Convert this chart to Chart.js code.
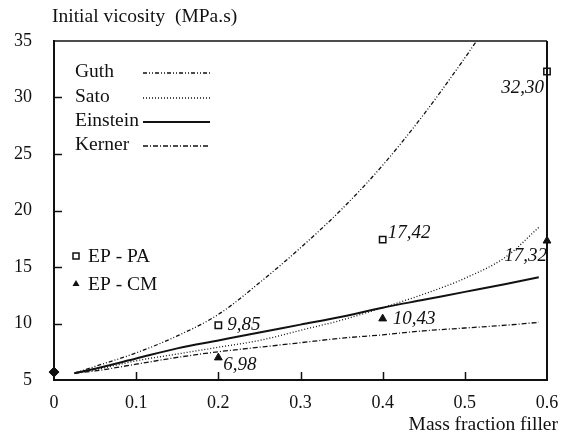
<!DOCTYPE html>
<html>
<head>
<meta charset="utf-8">
<script src="https://cdn.jsdelivr.net/npm/chart.js@4/dist/chart.umd.min.js"></script>
<style>
  html, body { margin: 0; padding: 0; background: #fff; }
  canvas { display: block; }
</style>
</head>
<body>
<canvas id="viscChart" width="563" height="435"></canvas>
<script>
// theoretical curves (mass fraction filler -> initial viscosity)
let fractions = [0.025, 0.05, 0.1, 0.15, 0.2, 0.25, 0.3, 0.35, 0.4, 0.45, 0.5, 0.55, 0.59];
let guthFractions = [0.025, 0.05, 0.1, 0.15, 0.2, 0.25, 0.3, 0.35, 0.4, 0.45, 0.5, 0.52];
let guthValues = [5.6, 6.2, 7.4, 8.9, 10.8, 13.6, 16.7, 20.1, 24.0, 28.5, 33.5, 35.6];
let satoValues = [5.6, 5.9, 6.7, 7.3, 7.9, 8.5, 9.4, 10.3, 11.4, 12.6, 14.0, 15.9, 18.5];
let einsteinValues = [5.6, 6.0, 6.9, 7.8, 8.5, 9.2, 9.9, 10.6, 11.4, 12.1, 12.8, 13.5, 14.1];
let kernerValues = [5.6, 5.8, 6.4, 7.0, 7.5, 7.9, 8.3, 8.7, 9.0, 9.35, 9.6, 9.85, 10.1];

// measured samples
let sampleFractions = [0.2, 0.4, 0.6];
let epPaValues = [9.85, 17.42, 32.30];
let epCmValues = [6.98, 10.43, 17.32];
let neatFraction = [0];
let neatValue = [5.7];

let xTicks = [0, 0.1, 0.2, 0.3, 0.4, 0.5, 0.6];
let yTicks = [5, 10, 15, 20, 25, 30, 35];

const FONT = '"Liberation Serif", "DejaVu Serif", serif';
const INK = '#111';

function pairs(xs, ys) {
	return ys.map((y, i) => ({ x: xs[i], y: y }));
}

function curve(label, xs, ys, dash, width) {
	return {
		label: label,
		data: pairs(xs, ys),
		showLine: true,
		borderColor: INK,
		borderWidth: width,
		borderDash: dash,
		pointRadius: 0,
		cubicInterpolationMode: 'monotone',
		clip: 0
	};
}

let lineDatasets = [
	curve('Guth', guthFractions, guthValues, [4, 2, 1, 2, 1, 2], 1.3),
	curve('Sato', fractions, satoValues, [1, 2], 1.3),
	curve('Einstein', fractions, einsteinValues, [], 2),
	curve('Kerner', fractions, kernerValues, [5, 2, 1, 2], 1.3)
];

let pointDatasets = [
	{
		label: 'EP - PA',
		data: pairs(sampleFractions, epPaValues),
		pointStyle: 'rect',
		pointRadius: 4.5,
		backgroundColor: '#fff',
		borderColor: INK,
		borderWidth: 1.5,
		clip: false
	},
	{
		label: 'EP - CM',
		data: pairs(sampleFractions, epCmValues),
		pointStyle: 'triangle',
		pointRadius: 4.5,
		backgroundColor: INK,
		borderColor: INK,
		borderWidth: 1,
		clip: false
	},
	{
		label: 'neat',
		data: pairs(neatFraction, neatValue),
		pointStyle: 'rectRot',
		pointRadius: 5,
		backgroundColor: INK,
		borderColor: INK,
		borderWidth: 1,
		clip: false
	}
];

// label offsets for the measured values (dx, dy, align)
let valueLabelPlacement = {
	'EP - PA': [[9, 0, 'left'], [5, -7, 'left'], [-3, 16, 'right']],
	'EP - CM': [[5, 7, 'left'], [10, 0, 'left'], [0, 15, 'right']]
};

let decorations = {
	id: 'decorations',
	afterDraw(chart) {
		let c = chart.ctx;
		let area = chart.chartArea;
		let xs = chart.scales.x;
		let ys = chart.scales.y;
		c.save();

		// frame top and right
		c.strokeStyle = INK;
		c.lineWidth = 1.5;
		c.beginPath();
		c.moveTo(area.left, area.top);
		c.lineTo(area.right, area.top);
		c.stroke();
		c.lineWidth = 2;
		c.beginPath();
		c.moveTo(area.right, area.top);
		c.lineTo(area.right, area.bottom);
		c.stroke();

		// inward ticks
		c.lineWidth = 1.5;
		yTicks.slice(1, -1).forEach(v => {
			let py = Math.round(ys.getPixelForValue(v)) + 0.5;
			c.beginPath();
			c.moveTo(area.left, py);
			c.lineTo(area.left + 8, py);
			c.stroke();
		});
		xTicks.slice(1, -1).forEach(v => {
			let px = Math.round(xs.getPixelForValue(v)) + 0.5;
			c.beginPath();
			c.moveTo(px, area.bottom);
			c.lineTo(px, area.bottom - 8);
			c.stroke();
		});

		// axis titles
		c.fillStyle = INK;
		c.font = '19.5px ' + FONT;
		c.textBaseline = 'middle';
		c.textAlign = 'left';
		c.fillText('Initial vicosity  (MPa.s)', 52, 17);
		c.textAlign = 'right';
		c.fillText('Mass fraction filler', 558, 425);

		// legend for curves
		c.textAlign = 'left';
		let legendY = [72, 97, 121, 145];
		lineDatasets.forEach((ds, i) => {
			c.fillStyle = INK;
			c.fillText(ds.label, 75, legendY[i]);
			c.strokeStyle = INK;
			c.lineWidth = ds.borderWidth;
			c.setLineDash(ds.borderDash);
			c.beginPath();
			c.moveTo(143, legendY[i] + 1);
			c.lineTo(210, legendY[i] + 1);
			c.stroke();
		});
		c.setLineDash([]);

		// legend for samples
		c.lineWidth = 1.5;
		c.strokeStyle = INK;
		c.fillStyle = '#fff';
		c.fillRect(73, 253, 6, 6);
		c.strokeRect(73, 253, 6, 6);
		c.fillStyle = INK;
		c.beginPath();
		c.moveTo(76, 280);
		c.lineTo(79.5, 286);
		c.lineTo(72.5, 286);
		c.closePath();
		c.fill();
		c.fillText('EP - PA', 88, 257);
		c.fillText('EP - CM', 88, 285);

		// value labels next to the measured points
		c.font = 'italic 19px ' + FONT;
		chart.data.datasets.forEach((ds, di) => {
			let place = valueLabelPlacement[ds.label];
			if (!place) return;
			let meta = chart.getDatasetMeta(di);
			meta.data.forEach((pt, i) => {
				let [dx, dy, align] = place[i];
				c.textAlign = align;
				c.fillText(ds.data[i].y.toFixed(2).replace('.', ','), pt.x + dx, pt.y + dy);
			});
		});
		c.restore();
	}
};

let viscChart = new Chart(document.getElementById('viscChart'), {
	type: 'scatter',
	data: {
		datasets: lineDatasets.concat(pointDatasets)
	},
	options: {
		responsive: false,
		animation: false,
		layout: {
			padding: { top: 41, right: 16, left: 0, bottom: 0 }
		},
		plugins: {
			legend: { display: false },
			tooltip: { enabled: false }
		},
		scales: {
			x: {
				type: 'linear',
				min: 0,
				max: 0.6,
				afterFit: (scale) => {
					scale.height = 55;
					scale.paddingLeft = 0;
					scale.paddingRight = 0;
				},
				afterBuildTicks: (scale) => { scale.ticks = xTicks.map(v => ({ value: v })); },
				grid: { display: false, drawTicks: false },
				border: { display: true, color: INK, width: 2 },
				ticks: {
					color: INK,
					padding: 12,
					font: { family: FONT, size: 18 },
					callback: (v) => v === 0 ? '0' : v.toFixed(1)
				}
			},
			y: {
				type: 'linear',
				min: 5,
				max: 35,
				afterFit: (scale) => {
					scale.width = 54;
					scale.paddingTop = 0;
					scale.paddingBottom = 0;
				},
				afterBuildTicks: (scale) => { scale.ticks = yTicks.map(v => ({ value: v })); },
				grid: { display: false, drawTicks: false },
				border: { display: true, color: INK, width: 2 },
				ticks: {
					color: INK,
					padding: 22,
					font: { family: FONT, size: 18 }
				}
			}
		}
	},
	plugins: [decorations]
});
</script>
</body>
</html>
